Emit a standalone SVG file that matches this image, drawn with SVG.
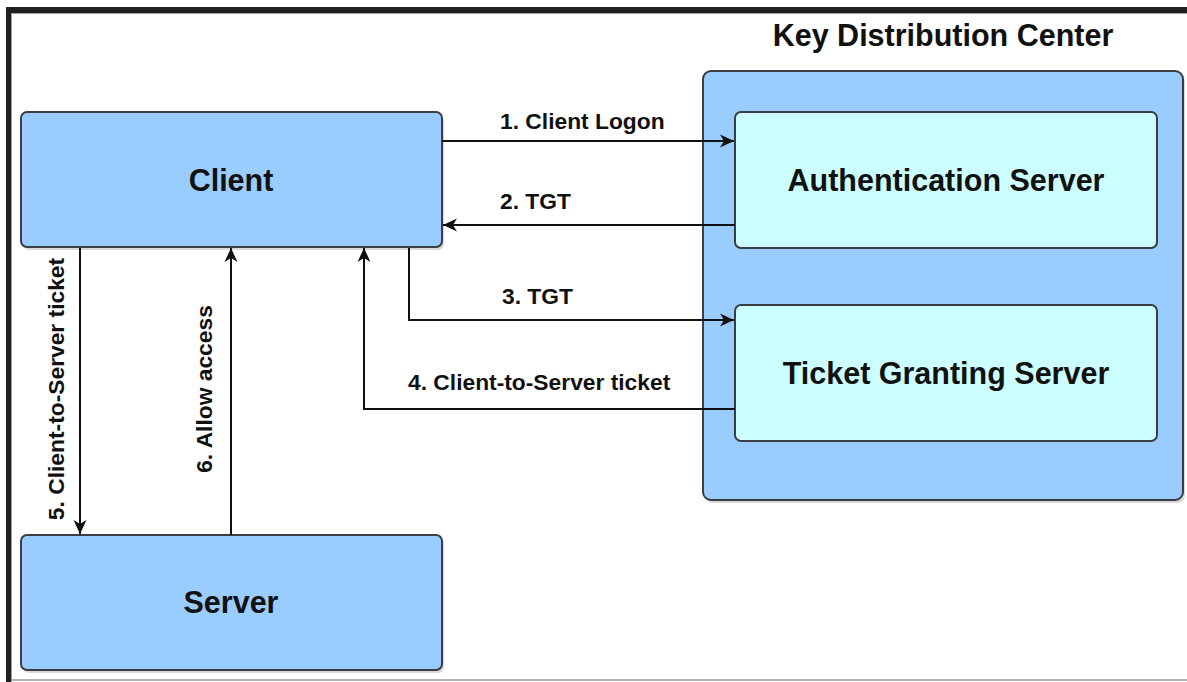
<svg xmlns="http://www.w3.org/2000/svg" width="1187" height="682" viewBox="0 0 1187 682">
  <defs>
    <style>
      .frame { fill: #1f2023; }
      .node-blue { fill: #99CCFF; stroke: #3a3d42; stroke-width: 2; }
      .node-cyan { fill: #CCFFFF; stroke: #3a3d42; stroke-width: 2; }
      .shadow { fill: #d9d9d9; }
      .lbl-node { font-family: "Liberation Sans", Arial, sans-serif; font-weight: bold; font-size: 30.5px; fill: #111; text-anchor: middle; }
      .lbl-edge { font-family: "Liberation Sans", Arial, sans-serif; font-weight: bold; font-size: 22.8px; fill: #111; }
      .edge { fill: none; stroke: #111; stroke-width: 2; }
    </style>
    <marker id="arrow" markerUnits="userSpaceOnUse" markerWidth="16" markerHeight="14" refX="14" refY="7" orient="auto">
      <path d="M0,0.5 L14,7 L0,13.5 L4,7 Z" fill="#111"/>
    </marker>
  </defs>

  <rect x="0" y="0" width="1187" height="682" fill="#ffffff"/>

  <!-- frame -->
  <g id="frame">
    <rect class="frame" x="6" y="7" width="1181" height="6"/>
    <rect class="frame" x="6" y="7" width="5" height="675"/>
    <line x1="11" y1="13.5" x2="1187" y2="13.5" stroke="#a0a0a0" stroke-width="1"/>
    <line x1="11.5" y1="13" x2="11.5" y2="682" stroke="#a0a0a0" stroke-width="1"/>
    <line x1="11" y1="680" x2="1187" y2="680" stroke="#9a9a9a" stroke-width="1.5"/>
  </g>

  <!-- Key Distribution Center container -->
  <g id="kdc">
    <rect class="shadow" x="705" y="74" width="480" height="429" rx="8"/>
    <rect class="node-blue" x="703" y="71" width="480" height="429" rx="8"/>
    <text class="lbl-node" x="943" y="46">Key Distribution Center</text>
  </g>

  <g id="client">
    <rect class="shadow" x="23" y="115" width="421" height="135" rx="6"/>
    <rect class="node-blue" x="21" y="112" width="421" height="135" rx="6"/>
    <text class="lbl-node" x="231" y="191">Client</text>
  </g>

  <g id="server">
    <rect class="shadow" x="23" y="538" width="421" height="135" rx="6"/>
    <rect class="node-blue" x="21" y="535" width="421" height="135" rx="6"/>
    <text class="lbl-node" x="231" y="613">Server</text>
  </g>

  <g id="auth-server">
    <rect class="node-cyan" x="735" y="112" width="422" height="136" rx="6"/>
    <text class="lbl-node" x="946" y="191">Authentication Server</text>
  </g>

  <g id="tgs">
    <rect class="node-cyan" x="735" y="305" width="422" height="136" rx="6"/>
    <text class="lbl-node" x="946" y="384">Ticket Granting Server</text>
  </g>

  <!-- connectors -->
  <g id="connectors">
    <path class="edge" d="M442,141 L734,141" marker-end="url(#arrow)"/>
    <path class="edge" d="M735,225 L443,225" marker-end="url(#arrow)"/>
    <path class="edge" d="M409,248 L409,320 L734,320" marker-end="url(#arrow)"/>
    <path class="edge" d="M735,409 L364,409 L364,248" marker-end="url(#arrow)"/>
    <path class="edge" d="M80,248 L80,534" marker-end="url(#arrow)"/>
    <path class="edge" d="M231,535 L231,248" marker-end="url(#arrow)"/>

    <text class="lbl-edge" x="500" y="129">1. Client Logon</text>
    <text class="lbl-edge" x="500" y="209">2. TGT</text>
    <text class="lbl-edge" x="502" y="304">3. TGT</text>
    <text class="lbl-edge" x="408" y="390">4. Client-to-Server ticket</text>
    <text class="lbl-edge" x="64" y="389" text-anchor="middle" transform="rotate(-90 64 389)">5. Client-to-Server ticket</text>
    <text class="lbl-edge" x="212" y="389" text-anchor="middle" transform="rotate(-90 212 389)">6. Allow access</text>
  </g>
</svg>
